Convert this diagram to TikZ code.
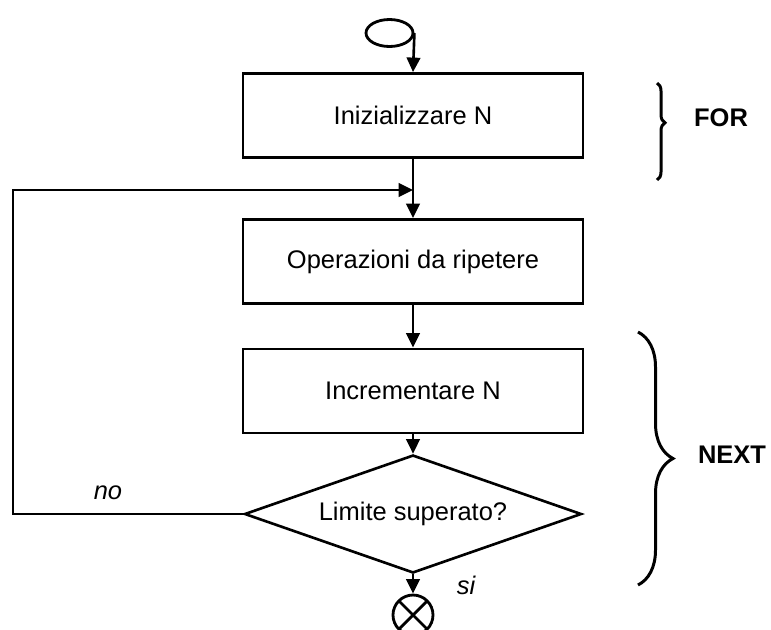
\documentclass[tikz,border=0pt]{standalone}
\usepackage{fontspec}
\setmainfont{Liberation Sans}
\usetikzlibrary{shapes.geometric,arrows.meta,decorations.pathreplacing}

\begin{document}
\begin{tikzpicture}[
    txt/.style={font=\fontsize{14.5}{17}\selectfont},
    box/.style={draw, line width=1.6pt, minimum width=6.8cm, minimum height=1.68cm, txt},
    test/.style={draw, diamond, aspect=2.8, line width=1.5pt, minimum width=6.74cm, minimum height=2.36cm, inner sep=0pt, txt},
    flow/.style={line width=1.5pt, -{Triangle[length=2.9mm,width=2.7mm]}},
    curly/.style={line width=1.7pt, decorate}
]
    % Fix the page to the size of the reference
    \useasboundingbox (0,0) rectangle (15.42,-12.58);

    % Start and end symbols
    \node[draw, ellipse, line width=1.6pt, minimum width=0.94cm, minimum height=0.54cm, inner sep=0pt] (start) at (7.79,-0.66) {};
    \node[draw, circle, line width=1.6pt, minimum size=0.8cm, inner sep=0pt,
        path picture={\draw[line width=1.6pt] (path picture bounding box.north west) -- (path picture bounding box.south east)
            (path picture bounding box.north east) -- (path picture bounding box.south west);}] (stop) at (8.26,-12.3) {};

    % The blocks of the loop
    \node[box] (init) at (8.26,-2.31) {Inizializzare N};
    \node[box] (body) at (8.26,-5.23) {Operazioni da ripetere};
    \node[box] (incr) at (8.26,-7.82) {Incrementare N};
    \node[test] (limit) at (8.26,-10.28) {Limite superato?};

    % Points of the way back
    \coordinate (corner) at (0.26,-3.8);
    \coordinate (merge) at (8.26,-3.8);

    % Draw the connectors
    \draw[flow] (start.east) -- (init.north);
    \draw[flow] (init.south) -- (body.north);
    \draw[flow] (body.south) -- (incr.north);
    \draw[flow] (incr.south) -- (limit.north);
    \draw[flow] (limit.south) -- (stop.north);
    \draw[flow] (limit.west) -| (corner) -- (merge);

    % Answers of the test
    \node[txt, font=\fontsize{14.5}{17}\selectfont\itshape] (no) at (2.16,-9.86) {no};
    \node[txt, font=\fontsize{14.5}{17}\selectfont\itshape] (si) at (9.32,-11.7) {si};

    % Braces with their names
    \draw[curly, decoration={brace, amplitude=0.16cm, aspect=0.41}] (13.14,-1.66) -- (13.14,-3.6);
    \draw[curly, decoration={brace, amplitude=0.7cm}] (12.76,-6.64) -- (12.76,-11.7);
    \node[txt, font=\fontsize{14.5}{17}\selectfont\bfseries] (for) at (14.42,-2.36) {FOR};
    \node[txt, font=\fontsize{14.5}{17}\selectfont\bfseries] (next) at (14.64,-9.1) {NEXT};

\end{tikzpicture}
\end{document}
